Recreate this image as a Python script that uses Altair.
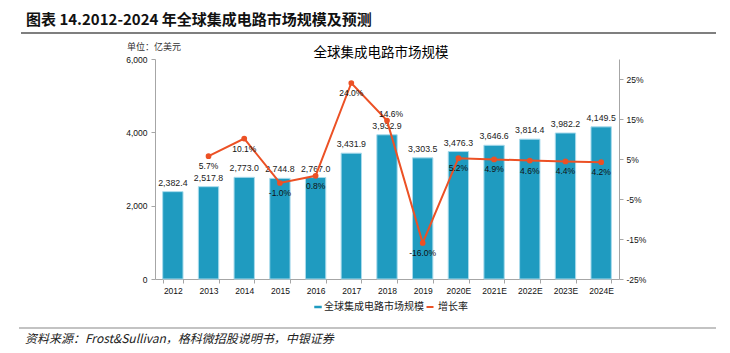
import altair as alt
import pandas as pd

years = ["2012", "2013", "2014", "2015", "2016", "2017", "2018", "2019",
         "2020E", "2021E", "2022E", "2023E", "2024E"]
market = [2382.4, 2517.8, 2773.0, 2744.8, 2767.0, 3431.9, 3932.9, 3303.5,
          3476.3, 3646.6, 3814.4, 3982.2, 4149.5]
growth_pct = [None, 5.7, 10.1, -1.0, 0.8, 24.0, 14.6, -16.0, 5.2, 4.9, 4.6, 4.4, 4.2]
left_ticks = [0, 2000, 4000, 6000]
right_ticks = [-0.25, -0.15, -0.05, 0.05, 0.15, 0.25]

BAR_NAME = "全球集成电路市场规模"
LINE_NAME = "增长率"
TITLE = "图表 14.2012-2024 年全球集成电路市场规模及预测"
CHART_TITLE = "全球集成电路市场规模"
UNIT = "单位：亿美元"
SOURCE = "资料来源：Frost&Sullivan，格科微招股说明书，中银证券"

df = pd.DataFrame({
    "year": years,
    "market": market,
    "growth": [g / 100 if g is not None else None for g in growth_pct],
})
df["bar_series"] = BAR_NAME
df["line_series"] = LINE_NAME

BLUE = "#1f9bc0"
ORANGE = "#ec5125"
CJK = "Noto Sans CJK SC"
NUM = "Liberation Sans, Arial"
W, H = 464, 220
PL, PT = 155, 59
FIXMINUS = "replace(datum.label, '\u2212', '-')"

base = alt.Chart(df)
x_enc = alt.X("year:N", sort=years,
              scale=alt.Scale(paddingInner=0.43, paddingOuter=0.215),
              axis=alt.Axis(title=None, labelAngle=0, tickBand="extent",
                            tickSize=4, labelPadding=3, labelFontSize=8.5,
                            labelFont=NUM, domainColor="#a6a6a6",
                            tickColor="#a6a6a6", labelColor="#111"))

bars = base.mark_bar(stroke="#a9dbec", strokeWidth=1).encode(
    x=x_enc,
    y=alt.Y("market:Q", scale=alt.Scale(domain=[0, 6000], nice=False),
            axis=alt.Axis(title=None, orient="left", values=left_ticks,
                          format=",.0f", grid=False, tickSize=4, labelPadding=4,
                          labelFont=NUM, labelFontSize=8.5,
                          domainColor="#a6a6a6", tickColor="#a6a6a6",
                          labelColor="#111")),
    color=alt.Color("bar_series:N", scale=alt.Scale(range=[BLUE]),
                    legend=alt.Legend(title=None, orient="none",
                                      legendX=158, legendY=243,
                                      symbolType="M-1.5,-0.5H1.5V0.5H-1.5Z",
                                      symbolSize=25, symbolStrokeWidth=0,
                                      labelFont=CJK, labelFontSize=10,
                                      labelColor="#222", labelOffset=1)),
)
bar_text = base.mark_text(baseline="bottom", dy=-4, fontSize=8.8,
                          font=NUM, color="#222").encode(
    x=alt.X("year:N", sort=years),
    y=alt.Y("market:Q"),
    text=alt.Text("market:Q", format=",.1f"),
)
left = alt.layer(bars, bar_text)

gbase = base.transform_filter("isValid(datum.growth)").transform_calculate(
    glabel="replace(format(datum.growth, '.1%'), '\u2212', '-')")
line = gbase.mark_line(strokeWidth=2,
                       point=alt.OverlayMarkDef(size=14, filled=True, color=ORANGE)).encode(
    x=alt.X("year:N", sort=years),
    y=alt.Y("growth:Q", scale=alt.Scale(domain=[-0.25, 0.30], nice=False),
            axis=alt.Axis(title=None, orient="right", values=right_ticks,
                          format=".0%", labelExpr=FIXMINUS, grid=False,
                          tickSize=4, labelPadding=3,
                          labelFont=NUM, labelFontSize=8.5,
                          domainColor="#a6a6a6", tickColor="#a6a6a6",
                          labelColor="#111")),
    stroke=alt.Stroke("line_series:N", scale=alt.Scale(range=[ORANGE]),
                      legend=alt.Legend(title=None, orient="none",
                                        legendX=270, legendY=243,
                                        symbolType="M-1,0H1", symbolSize=49,
                                        symbolStrokeWidth=2,
                                        labelFont=CJK, labelFontSize=10,
                                        labelColor="#222", labelOffset=3)),
)
growth_text_below = gbase.transform_filter("datum.year != '2018'").mark_text(
    baseline="middle", dy=10, fontSize=8.5, font=NUM, color="#111").encode(
    x=alt.X("year:N", sort=years),
    y=alt.Y("growth:Q"),
    text=alt.Text("glabel:N"),
)
growth_text_above = gbase.transform_filter("datum.year == '2018'").mark_text(
    baseline="middle", dy=-7, dx=4, fontSize=8.5, font=NUM, color="#111").encode(
    x=alt.X("year:N", sort=years),
    y=alt.Y("growth:Q"),
    text=alt.Text("glabel:N"),
)
right = alt.layer(line, growth_text_below, growth_text_above)

one = alt.Chart(pd.DataFrame({"k": [0]}))
title_txt = one.mark_text(align="left", baseline="middle", font=CJK,
                          fontSize=15, fontWeight="bold", color="#111").encode(
    x=alt.value(26 - PL), y=alt.value(20 - PT), text=alt.value(TITLE))
title_rule = one.mark_rule(color="#555", strokeWidth=1.5).encode(
    x=alt.value(21 - PL), x2=alt.value(716 - PL), y=alt.value(33 - PT))
unit_txt = one.mark_text(align="left", baseline="middle", font=CJK,
                         fontSize=9, color="#333").encode(
    x=alt.value(127 - PL), y=alt.value(47 - PT), text=alt.value(UNIT))
chart_title = one.mark_text(align="center", baseline="middle", font=CJK,
                            fontSize=13.5, color="#000").encode(
    x=alt.value(381 - PL), y=alt.value(53 - PT), text=alt.value(CHART_TITLE))
foot_rule = one.mark_rule(color="#888", strokeWidth=1.2).encode(
    x=alt.value(19 - PL), x2=alt.value(716 - PL), y=alt.value(328 - PT))
foot_txt = one.mark_text(align="left", baseline="middle", font=CJK,
                         fontSize=12, fontStyle="italic", color="#222").encode(
    x=alt.value(25 - PL), y=alt.value(339 - PT), text=alt.value(SOURCE))

chart = alt.layer(left, right, title_txt, title_rule, unit_txt, chart_title,
                  foot_rule, foot_txt).resolve_scale(
    y="independent"
).properties(
    width=W, height=H,
    autosize=alt.AutoSizeParams(type="none"),
    padding={"left": PL, "top": PT, "right": 730 - PL - W, "bottom": 353 - PT - H},
    background="white",
).configure_view(stroke=None)

chart.save("out.html", embed_options={"renderer": "svg", "actions": False})
